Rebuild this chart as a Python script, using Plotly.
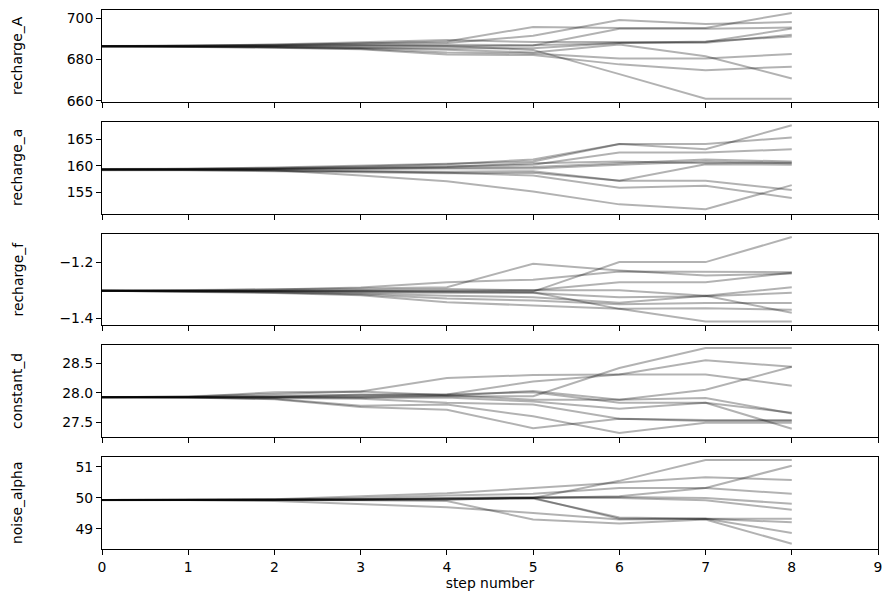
import plotly.graph_objects as go
from plotly.subplots import make_subplots

steps = [0, 1, 2, 3, 4, 5, 6, 7, 8]
labels = ["recharge_A", "recharge_a", "recharge_f", "constant_d", "noise_alpha"]

recharge_A = [
    [686.5, 686.7, 687.2, 687.8, 688.0, 691.5, 699.2, 697.2, 698.2],
    [686.4, 686.6, 687.0, 687.8, 688.8, 695.8, 695.3, 695.3, 702.6],
    [686.5, 686.4, 686.3, 686.1, 686.3, 686.8, 694.9, 694.9, 695.5],
    [686.6, 686.7, 687.3, 688.3, 689.5, 688.5, 688.5, 688.5, 695.0],
    [686.5, 686.5, 686.6, 686.9, 687.2, 687.0, 688.0, 688.2, 692.0],
    [686.4, 686.3, 686.0, 685.8, 685.4, 685.5, 688.0, 688.8, 691.2],
    [686.5, 686.4, 686.1, 685.6, 684.8, 683.5, 687.3, 681.6, 670.9],
    [686.6, 686.4, 685.9, 685.2, 683.5, 683.0, 680.6, 680.6, 682.7],
    [686.5, 686.3, 685.8, 685.0, 682.5, 682.2, 677.7, 674.9, 676.6],
    [686.5, 686.6, 686.8, 687.0, 686.6, 684.7, 673.0, 661.1, 661.1],
]
recharge_a = [
    [159.3, 159.4, 159.6, 159.9, 160.3, 161.2, 164.1, 164.1, 165.3],
    [159.3, 159.4, 159.7, 160.0, 160.4, 160.8, 164.1, 163.1, 167.6],
    [159.4, 159.4, 159.5, 159.7, 159.9, 160.2, 162.5, 162.5, 163.1],
    [159.3, 159.3, 159.4, 159.5, 159.6, 159.8, 160.5, 161.2, 160.8],
    [159.3, 159.3, 159.3, 159.4, 159.5, 159.5, 160.2, 160.8, 160.5],
    [159.3, 159.2, 159.1, 159.0, 158.9, 159.0, 157.2, 160.3, 160.2],
    [159.2, 159.2, 159.0, 158.8, 158.6, 158.7, 157.2, 157.2, 155.5],
    [159.3, 159.3, 159.2, 159.0, 158.7, 158.2, 155.9, 156.3, 154.0],
    [159.3, 159.3, 159.4, 159.6, 159.8, 160.5, 160.8, 160.5, 160.6],
    [159.3, 159.3, 159.2, 158.2, 157.1, 155.2, 152.8, 151.9, 156.4],
]
recharge_f = [
    [-1.302, -1.300, -1.298, -1.294, -1.289, -1.205, -1.229, -1.247, -1.240],
    [-1.302, -1.301, -1.297, -1.290, -1.271, -1.262, -1.233, -1.235, -1.235],
    [-1.301, -1.302, -1.303, -1.302, -1.304, -1.305, -1.199, -1.199, -1.109],
    [-1.302, -1.302, -1.301, -1.299, -1.296, -1.300, -1.271, -1.271, -1.237],
    [-1.303, -1.303, -1.304, -1.303, -1.302, -1.300, -1.300, -1.320, -1.289],
    [-1.302, -1.303, -1.305, -1.308, -1.310, -1.310, -1.325, -1.322, -1.309],
    [-1.302, -1.302, -1.303, -1.305, -1.306, -1.307, -1.367, -1.412, -1.412],
    [-1.302, -1.304, -1.307, -1.312, -1.320, -1.325, -1.345, -1.320, -1.381],
    [-1.302, -1.304, -1.308, -1.315, -1.330, -1.337, -1.350, -1.346, -1.346],
    [-1.302, -1.305, -1.310, -1.318, -1.343, -1.355, -1.367, -1.365, -1.370],
]
constant_d = [
    [27.93, 27.93, 27.94, 27.94, 27.94, 27.94, 28.42, 28.76, 28.76],
    [27.93, 27.93, 27.95, 27.96, 27.97, 28.19, 28.31, 28.55, 28.44],
    [27.92, 27.94, 27.98, 28.02, 28.25, 28.30, 28.31, 28.31, 28.12],
    [27.93, 27.93, 27.92, 27.93, 27.95, 28.03, 27.88, 28.05, 28.44],
    [27.92, 27.93, 28.01, 28.02, 27.96, 27.88, 27.88, 27.91, 27.65],
    [27.93, 27.93, 27.93, 27.97, 27.97, 28.01, 27.83, 27.83, 27.66],
    [27.92, 27.92, 27.90, 27.78, 27.80, 27.60, 27.32, 27.49, 27.49],
    [27.93, 27.92, 27.89, 27.76, 27.71, 27.40, 27.56, 27.54, 27.54],
    [27.92, 27.92, 27.91, 27.90, 27.83, 27.80, 27.56, 27.52, 27.52],
    [27.93, 27.93, 27.92, 27.91, 27.92, 27.85, 27.73, 27.83, 27.39],
]
noise_alpha = [
    [49.93, 49.93, 49.94, 49.96, 49.98, 50.00, 50.55, 51.22, 51.22],
    [49.93, 49.94, 49.96, 50.05, 50.15, 50.32, 50.50, 50.67, 50.58],
    [49.93, 49.93, 49.95, 50.00, 50.08, 50.13, 50.32, 50.32, 50.13],
    [49.93, 49.93, 49.93, 49.95, 49.98, 50.00, 50.05, 50.32, 51.04],
    [49.92, 49.93, 49.94, 49.96, 50.00, 50.03, 50.03, 50.00, 49.81],
    [49.93, 49.93, 49.92, 49.93, 49.95, 50.00, 50.00, 49.92, 49.62],
    [49.93, 49.93, 49.93, 49.94, 49.96, 49.98, 49.37, 49.33, 49.33],
    [49.93, 49.93, 49.93, 49.93, 49.95, 50.00, 49.33, 49.33, 49.21],
    [49.93, 49.93, 49.90, 49.80, 49.70, 49.51, 49.30, 49.33, 48.87],
    [49.93, 49.93, 49.93, 49.92, 49.90, 49.30, 49.17, 49.30, 48.52],
]
chains = [recharge_A, recharge_a, recharge_f, constant_d, noise_alpha]

y_ranges = [[659.5, 704.0], [151.0, 168.2], [-1.425, -1.098], [27.25, 28.81], [48.35, 51.32]]
y_tickvals = [[660, 680, 700], [155, 160, 165], [-1.4, -1.2], [27.5, 28.0, 28.5], [49, 50, 51]]
y_ticktext = [["660", "680", "700"], ["155", "160", "165"], ["\u22121.4", "\u22121.2"],
              ["27.5", "28.0", "28.5"], ["49", "50", "51"]]
x_ticks = [0, 1, 2, 3, 4, 5, 6, 7, 8, 9]

W, H = 891, 602
ml, mr, mt, mb = 102, 13, 10, 53
ph = H - mt - mb
pw = W - ml - mr
panel_px = [(10, 102), (122, 214), (234, 325), (345, 437), (457, 549)]

fig = make_subplots(rows=5, cols=1, shared_xaxes=True)
FONT = "DejaVu Sans, sans-serif"
fs = 13.9

for i, chain in enumerate(chains):
    for walker in chain:
        fig.add_trace(go.Scatter(x=steps, y=walker, mode="lines",
                                 line=dict(color="rgba(0,0,0,0.3)", width=2),
                                 showlegend=False, hoverinfo="skip"),
                      row=i + 1, col=1)
    top, bot = panel_px[i]
    dom = [(H - mb - bot) / ph, (H - mb - top) / ph]
    yname = "yaxis" if i == 0 else f"yaxis{i+1}"
    xname = "xaxis" if i == 0 else f"xaxis{i+1}"
    fig.layout[yname].update(domain=dom, range=y_ranges[i], tickvals=y_tickvals[i],
                             ticktext=y_ticktext[i], ticks="outside", ticklen=5,
                             tickwidth=1, tickcolor="black", showline=True,
                             linecolor="black", linewidth=1, mirror=True,
                             showgrid=False, zeroline=False,
                             tickfont=dict(family=FONT, size=fs, color="black"))
    fig.layout[xname].update(range=[0, 9], tickvals=x_ticks, ticks="outside", ticklen=5,
                             tickwidth=1, tickcolor="black", showline=True,
                             linecolor="black", linewidth=1, mirror=True,
                             showgrid=False, zeroline=False,
                             showticklabels=(i == 4),
                             tickfont=dict(family=FONT, size=fs, color="black"))
    fig.add_annotation(text=labels[i], xref="paper", yref="paper",
                       x=(17 - ml) / pw, y=(dom[0] + dom[1]) / 2, textangle=-90,
                       showarrow=False, xanchor="center", yanchor="middle",
                       font=dict(family=FONT, size=fs, color="black"))

fig.layout["xaxis5"].title = dict(text="step number", font=dict(family=FONT, size=fs, color="black"),
                                  standoff=4)

fig.update_layout(width=W, height=H, margin=dict(l=ml, r=mr, t=mt, b=mb, autoexpand=False),
                  paper_bgcolor="white", plot_bgcolor="white",
                  font=dict(family=FONT, size=fs, color="black"))

fig.write_html("out.html")
